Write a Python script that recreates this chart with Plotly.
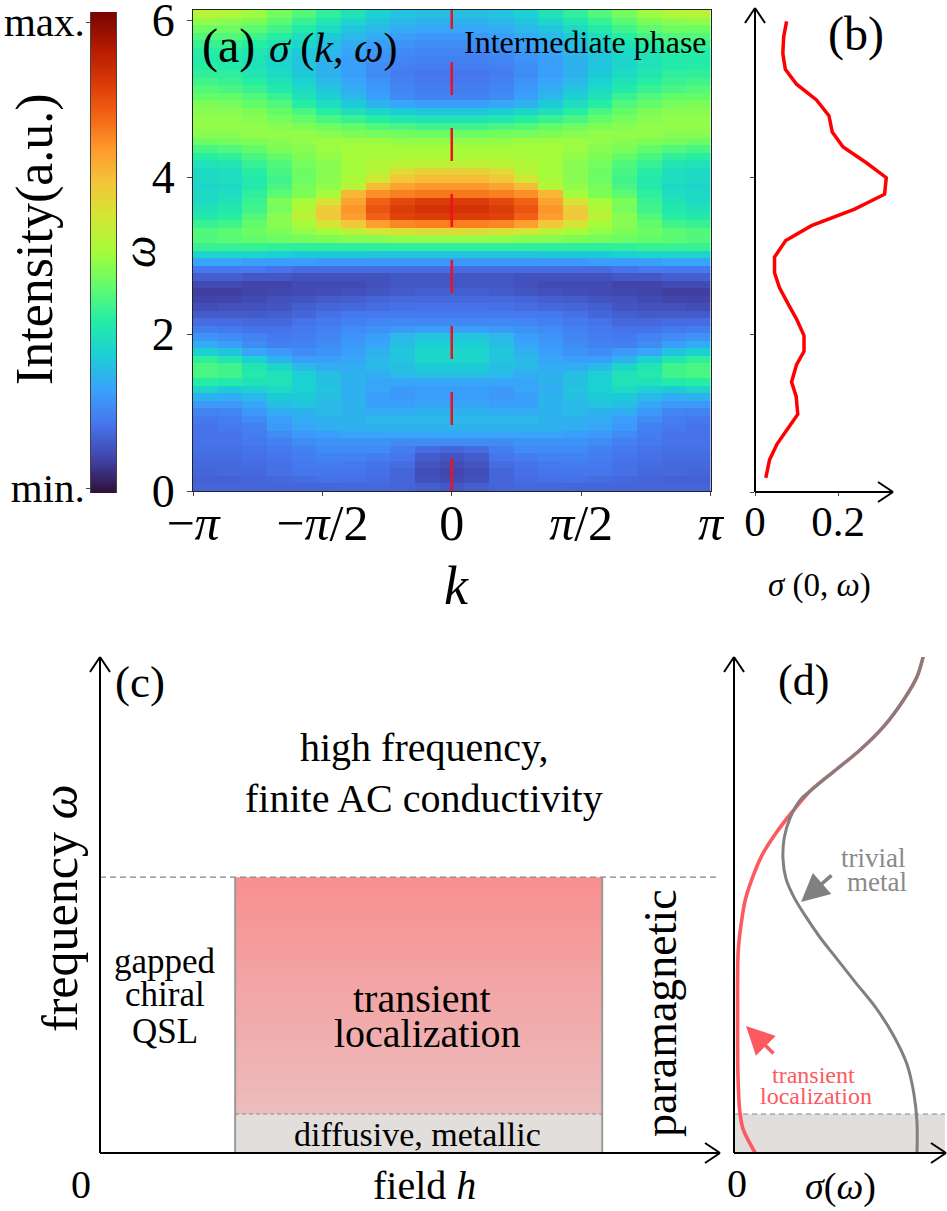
import math
import plotly.graph_objects as go

W, H = 947, 1211
def fx(px): return px / W
def fy(py): return 1 - py / H

# ---- panel (a): sigma(k, omega), rows listed from top (high omega) to bottom,
# columns from k=-pi to k=0 (the map is mirror-symmetric in k)
sigma_half = [
 [.53,.52,.49,.45,.41,.37,.33,.29,.27,.26,.26],
 [.48,.47,.46,.42,.38,.34,.30,.27,.25,.24,.24],
 [.44,.44,.42,.39,.35,.31,.27,.25,.23,.22,.22],
 [.41,.41,.39,.36,.32,.28,.25,.23,.21,.20,.20],
 [.38,.38,.36,.33,.30,.26,.23,.21,.19,.18,.18],
 [.36,.36,.34,.31,.28,.25,.22,.20,.18,.17,.17],
 [.35,.35,.33,.30,.27,.24,.21,.19,.17,.16,.16],
 [.36,.35,.33,.30,.27,.24,.21,.18,.16,.155,.155],
 [.37,.37,.34,.31,.28,.24,.21,.18,.155,.145,.145],
 [.39,.38,.36,.33,.29,.25,.22,.19,.16,.15,.15],
 [.41,.40,.38,.35,.31,.27,.23,.20,.17,.155,.155],
 [.43,.43,.41,.38,.33,.29,.25,.21,.18,.165,.165],
 [.46,.45,.43,.41,.36,.32,.28,.24,.22,.21,.21],
 [.47,.47,.46,.43,.40,.36,.32,.30,.28,.27,.27],
 [.48,.48,.47,.45,.43,.40,.38,.36,.34,.33,.33],
 [.48,.48,.48,.47,.46,.44,.43,.41,.40,.39,.39],
 [.47,.47,.48,.48,.48,.47,.46,.45,.45,.44,.44],
 [.44,.45,.46,.47,.48,.49,.49,.49,.48,.48,.48],
 [.40,.41,.43,.46,.47,.49,.50,.50,.50,.50,.50],
 [.36,.37,.40,.43,.46,.48,.50,.51,.51,.51,.51],
 [.33,.34,.38,.41,.45,.47,.50,.52,.53,.54,.54],
 [.31,.32,.36,.40,.44,.47,.50,.53,.60,.62,.62],
 [.31,.32,.35,.39,.44,.47,.51,.57,.64,.66,.66],
 [.30,.31,.35,.40,.45,.48,.53,.66,.70,.72,.72],
 [.31,.32,.37,.42,.46,.50,.67,.73,.75,.76,.76],
 [.31,.33,.38,.46,.50,.58,.70,.79,.83,.85,.85],
 [.33,.35,.39,.45,.52,.63,.72,.81,.85,.87,.87],
 [.35,.36,.41,.47,.54,.64,.71,.79,.84,.85,.85],
 [.38,.39,.43,.47,.50,.58,.64,.71,.74,.75,.75],
 [.41,.42,.44,.46,.48,.50,.54,.58,.59,.60,.60],
 [.41,.42,.43,.44,.45,.46,.47,.47,.48,.48,.48],
 [.38,.38,.38,.37,.37,.37,.37,.37,.37,.37,.37],
 [.30,.30,.30,.29,.28,.28,.28,.27,.27,.27,.27],
 [.22,.22,.21,.21,.21,.20,.20,.20,.20,.20,.20],
 [.15,.15,.15,.14,.13,.13,.13,.13,.13,.13,.13],
 [.11,.11,.10,.10,.09,.09,.09,.09,.10,.10,.10],
 [.08,.08,.07,.07,.08,.08,.08,.09,.10,.10,.10],
 [.065,.065,.07,.075,.08,.085,.09,.095,.105,.11,.11],
 [.07,.07,.08,.09,.095,.105,.11,.12,.125,.125,.125],
 [.085,.09,.09,.095,.11,.12,.125,.13,.135,.14,.14],
 [.105,.105,.105,.11,.12,.135,.15,.15,.15,.15,.15],
 [.13,.13,.125,.125,.14,.15,.16,.17,.175,.175,.175],
 [.155,.15,.14,.14,.15,.16,.18,.19,.20,.21,.21],
 [.19,.18,.165,.15,.155,.17,.19,.21,.25,.27,.27],
 [.23,.21,.18,.16,.165,.18,.20,.22,.26,.29,.29],
 [.29,.27,.22,.20,.18,.19,.21,.24,.27,.30,.30],
 [.37,.34,.29,.24,.21,.21,.22,.25,.27,.30,.30],
 [.40,.39,.34,.30,.25,.23,.23,.25,.26,.28,.28],
 [.40,.39,.35,.33,.29,.26,.24,.23,.25,.26,.26],
 [.36,.35,.33,.33,.29,.26,.24,.22,.22,.22,.22],
 [.30,.28,.29,.31,.29,.27,.23,.22,.20,.21,.21],
 [.24,.23,.25,.28,.28,.26,.24,.21,.20,.21,.21],
 [.20,.20,.22,.26,.27,.25,.24,.21,.21,.22,.22],
 [.165,.17,.20,.23,.24,.25,.24,.23,.23,.24,.24],
 [.15,.155,.18,.21,.23,.24,.24,.25,.25,.25,.25],
 [.14,.15,.16,.20,.22,.23,.24,.24,.24,.24,.24],
 [.14,.14,.155,.18,.20,.21,.22,.22,.22,.22,.22],
 [.14,.14,.15,.16,.18,.19,.19,.19,.18,.18,.18],
 [.135,.135,.14,.15,.16,.18,.18,.18,.155,.13,.12],
 [.13,.13,.135,.145,.155,.165,.165,.155,.145,.105,.095],
 [.125,.125,.13,.135,.15,.155,.15,.14,.13,.095,.085],
 [.12,.125,.125,.135,.145,.145,.145,.135,.12,.085,.075],
 [.115,.115,.12,.125,.13,.135,.135,.13,.12,.09,.08],
 [.12,.12,.12,.12,.12,.12,.125,.125,.12,.11,.10],
]
k_ticks = [-math.pi, -math.pi/2, 0, math.pi/2, math.pi]
k_labels = ["−<i>π</i>", "−<i>π</i>/2", "0", "<i>π</i>/2", "<i>π</i>"]
omega_ticks = [0, 2, 4, 6]
omega_max = 6.13
colorbar_labels = ["min.", "max."]

# ---- panel (b): sigma(0, omega)
b_sigma = [.026,.035,.053,.080,.103,.099,.088,.100,.118,.118,.100,.080,.059,.047,.047,
           .074,.136,.240,.312,.316,.268,.212,.186,.178,.148,.100,.073,.067,.069,.076]
b_omega = [.18,.41,.61,.81,.99,1.22,1.40,1.62,1.79,1.99,2.20,2.39,2.60,2.79,2.99,
           3.20,3.39,3.60,3.79,4.00,4.19,4.39,4.58,4.79,4.99,5.19,5.38,5.58,5.79,5.99]

# ---- panel (c): schematic phase diagram
h_low, h_high = 0.218, 0.81
omega_upper, omega_diffusive = 0.556, 0.0786

# ---- panel (d): schematic sigma(omega)
red_sigma = [.890,.859,.797,.703,.593,.468,.358,.272,.194,.131,.085,.053,.033,.020,.017,.017,.017,.019,.027,.042,.069,.100]
red_omega = [1.004,.960,.914,.860,.813,.769,.730,.687,.643,.600,.553,.510,.460,.409,.352,.294,.222,.150,.085,.049,.024,0]
gray_sigma = [.890,.859,.797,.703,.593,.468,.358,.311,.264,.236,.230,.244,.280,.335,.405,.484,.570,.664,.750,.812,.844,.859,.859]
gray_omega = [1.004,.960,.914,.860,.813,.769,.730,.712,.676,.636,.593,.553,.517,.478,.434,.391,.344,.294,.236,.179,.121,.063,0]

SERIF = "Liberation Serif"
RED = "#fb5a60"
GRAY = "#808080"

z_full = [row + row[-2::-1] for row in reversed(sigma_half)]
dk = 2 * math.pi / 21
dw = omega_max / len(z_full)

fig = go.Figure()
fig.add_trace(go.Heatmap(
    z=z_full, x0=-math.pi + dk/2, dx=dk, y0=dw/2, dy=dw,
    colorscale="Turbo", zmin=0, zmax=1, xaxis="x", yaxis="y", hoverinfo="skip", showscale=False,
))
# colour bar, drawn as its own small map with its own axis
ramp_n = 256
fig.add_trace(go.Heatmap(
    z=[[i / (ramp_n - 1)] for i in range(ramp_n)], x=[0, 1], y=[i / ramp_n for i in range(ramp_n + 1)],
    colorscale="Turbo", zmin=0, zmax=1, xaxis="x5", yaxis="y5", hoverinfo="skip", showscale=False,
))
fig.add_trace(go.Scatter(x=[0, 0], y=[0, omega_max], mode="lines", xaxis="x", yaxis="y",
                         line=dict(color="#f01020", width=2.5, dash="33px,33px"), hoverinfo="skip"))
fig.add_trace(go.Scatter(x=b_sigma, y=b_omega, mode="lines", xaxis="x2", yaxis="y2",
                         line=dict(color="#ff0000", width=3.5), hoverinfo="skip"))

# panel (c)
steps = 48
grad_y = [omega_diffusive + (omega_upper - omega_diffusive) * i / steps for i in range(steps + 1)]
grad_z = [[i / (steps - 1)] for i in range(steps)]
fig.add_trace(go.Heatmap(x=[h_low, h_high], y=grad_y, z=grad_z, xaxis="x3", yaxis="y3", showscale=False,
                         zmin=0, zmax=1, colorscale=[[0, "#ecbcbc"], [1, "#f89090"]], hoverinfo="skip"))
fig.add_trace(go.Scatter(x=[h_low, h_high, h_high, h_low, h_low],
                         y=[0, 0, omega_diffusive, omega_diffusive, 0], fill="toself", fillcolor="#e2dedc",
                         mode="none", xaxis="x3", yaxis="y3", hoverinfo="skip"))
for xv in (h_low, h_high):
    fig.add_trace(go.Scatter(x=[xv, xv], y=[0, omega_upper], mode="lines", xaxis="x3", yaxis="y3",
                             line=dict(color="#999999", width=2), hoverinfo="skip"))
fig.add_trace(go.Scatter(x=[0, 1], y=[omega_upper, omega_upper], mode="lines", xaxis="x3", yaxis="y3",
                         line=dict(color="#888888", width=1.2, dash="6px,4px"), hoverinfo="skip"))
fig.add_trace(go.Scatter(x=[h_low, h_high], y=[omega_diffusive, omega_diffusive], mode="lines", xaxis="x3", yaxis="y3",
                         line=dict(color="#888888", width=1.2, dash="4px,3px"), hoverinfo="skip"))

# panel (d)
fig.add_trace(go.Scatter(x=[0, .99, .99, 0, 0], y=[0, 0, omega_diffusive, omega_diffusive, 0], fill="toself",
                         fillcolor="#e2dedc", mode="none", xaxis="x4", yaxis="y4", hoverinfo="skip"))
fig.add_trace(go.Scatter(x=[0, .99], y=[omega_diffusive, omega_diffusive], mode="lines", xaxis="x4", yaxis="y4",
                         line=dict(color="#888888", width=1.2, dash="5px,4px"), hoverinfo="skip"))
fig.add_trace(go.Scatter(x=red_sigma, y=red_omega, mode="lines", xaxis="x4", yaxis="y4",
                         line=dict(color=RED, width=3.6, shape="spline"), hoverinfo="skip"))
fig.add_trace(go.Scatter(x=gray_sigma, y=gray_omega, mode="lines", xaxis="x4", yaxis="y4",
                         line=dict(color=GRAY, width=3, shape="spline"), hoverinfo="skip"))

shapes, annots = [], []
def seg(x0, y0, x1, y1, color="black", width=2):
    shapes.append(dict(type="line", xref="paper", yref="paper", x0=fx(x0), y0=fy(y0), x1=fx(x1), y1=fy(y1),
                       line=dict(color=color, width=width)))
def up_arrow(x, y0, y1, a=10, b=15, width=2):
    seg(x, y0, x, y1, width=width); seg(x - a, y1 + b, x, y1, width=width); seg(x + a, y1 + b, x, y1, width=width)
def right_arrow(y, x0, x1, a=15, b=10, width=2):
    seg(x0, y, x1, y, width=width); seg(x1 - a, y - b, x1, y, width=width); seg(x1 - a, y + b, x1, y, width=width)
def label(px, py, text, size, color="black", angle=0):
    annots.append(dict(xref="paper", yref="paper", x=fx(px), y=fy(py), text=text, showarrow=False,
                       font=dict(family=SERIF, size=size, color=color), textangle=angle,
                       xanchor="center", yanchor="middle"))
def filled_arrow(x0, y0, x1, y1, color):
    annots.append(dict(xref="paper", yref="paper", x=fx(x1), y=fy(y1), ax=x0 - x1, ay=y0 - y1,
                       axref="pixel", ayref="pixel", text="", showarrow=True, arrowhead=2,
                       arrowsize=1.6, arrowwidth=3.5, arrowcolor=color))

up_arrow(755, 492, 8); right_arrow(492, 755, 893)
up_arrow(100, 1153, 657); right_arrow(1153, 100, 720)
up_arrow(734, 1153, 657); right_arrow(1153, 734, 946)

label(35, 239, "Intensity(a.u.)", 52, angle=-90)
label(139, 252, "<i>ω</i>", 46, angle=-90)
label(456, 586, "<i>k</i>", 54)
label(228, 46, "(a)", 48)
label(333, 48, "<i>σ</i> (<i>k</i>, <i>ω</i>)", 42)
label(585, 42, "Intermediate phase", 32)
label(856, 34, "(b)", 48)
label(819, 585, "<i>σ</i> (0, <i>ω</i>)", 33)
label(140, 682, "(c)", 45)
label(424, 748, "high frequency,", 40)
label(424, 798, "finite AC conductivity", 40)
label(60, 908, "frequency <i>ω</i>", 50, angle=-90)
label(165, 962, "gapped", 35); label(165, 995, "chiral", 35); label(165, 1031, "QSL", 35)
label(422, 998, "transient", 40); label(427, 1033, "localization", 40)
label(417, 1134, "diffusive, metallic", 34)
label(660, 1013, "paramagnetic", 46, angle=-90)
label(81, 1184, "0", 40)
label(424, 1185, "field <i>h</i>", 40)
label(803, 680, "(d)", 44)
label(873, 858, "trivial", 27, color="#8a8a8a"); label(877, 882, "metal", 27, color="#8a8a8a")
label(813, 1075, "transient", 24, color=RED); label(816, 1096, "localization", 24, color=RED)
label(737, 1183, "0", 40)
label(840, 1186, "<i>σ</i>(<i>ω</i>)", 38)
filled_arrow(833, 874, 801, 902, GRAY)
filled_arrow(775, 1055, 746, 1026, RED)

hidden = dict(visible=False, fixedrange=True)
fig.update_layout(
    width=W, height=H, autosize=False, margin=dict(l=0, r=0, t=0, b=0, pad=0, autoexpand=False),
    paper_bgcolor="white", plot_bgcolor="white", showlegend=False,
    font=dict(family=SERIF, color="black"),
    xaxis=dict(domain=[fx(193), fx(710.5)], range=[-math.pi, math.pi], tickmode="array", tickvals=k_ticks,
               ticktext=k_labels, ticks="outside", ticklen=4, tickfont=dict(size=50), showline=True, mirror=True,
               linecolor="#222", linewidth=1, showgrid=False, zeroline=False, anchor="y", tickangle=0,
               ticklabeloverflow="allow", ticklabelstandoff=-16),
    yaxis=dict(domain=[fy(491), fy(10)], range=[0, omega_max], tickmode="array", tickvals=omega_ticks,
               ticktext=[str(t) for t in omega_ticks], ticks="outside", ticklen=5, tickfont=dict(size=46),
               showline=True, mirror=True, linecolor="#222", linewidth=1, showgrid=False, zeroline=False,
               anchor="x", ticklabelstandoff=3, ticklabeloverflow="allow"),
    xaxis2=dict(domain=[fx(755), fx(890)], range=[0, .325], tickmode="array", tickvals=[0, .2], ticktext=["0", "0.2"],
                ticks="outside", ticklen=3, tickfont=dict(size=43), showgrid=False, zeroline=False, anchor="y2", tickangle=0,
                ticklabeloverflow="allow", ticklabelstandoff=-12),
    yaxis2=dict(domain=[fy(492), fy(8)], range=[0, 6.16], tickmode="array", tickvals=[0, 2, 4], showticklabels=False,
                ticks="outside", ticklen=4, showgrid=False, zeroline=False, anchor="x2"),
    xaxis3=dict(domain=[fx(100), fx(720)], range=[0, 1], anchor="y3", **hidden),
    yaxis3=dict(domain=[fy(1153), fy(657)], range=[0, 1], anchor="x3", **hidden),
    xaxis4=dict(domain=[fx(734), fx(947)], range=[0, 1], anchor="y4", **hidden),
    yaxis4=dict(domain=[fy(1153), fy(657)], range=[0, 1], anchor="x4", **hidden),
    xaxis5=dict(domain=[fx(91), fx(116)], range=[0, 1], anchor="y5", visible=False, fixedrange=True, showline=True),
    yaxis5=dict(domain=[fy(493), fy(12)], range=[0, 1], anchor="x5", tickmode="array", tickvals=[.0104, .9792],
                ticktext=colorbar_labels, ticks="outside", ticklen=4, tickfont=dict(size=41), showline=True, mirror=True,
                linecolor="#444", linewidth=1, showgrid=False, zeroline=False, ticklabeloverflow="allow",
                ticklabelstandoff=-7),
    shapes=shapes, annotations=annots,
)
fig.write_html("out.html", post_script="document.body.style.margin='0';", config={"displayModeBar": False})
